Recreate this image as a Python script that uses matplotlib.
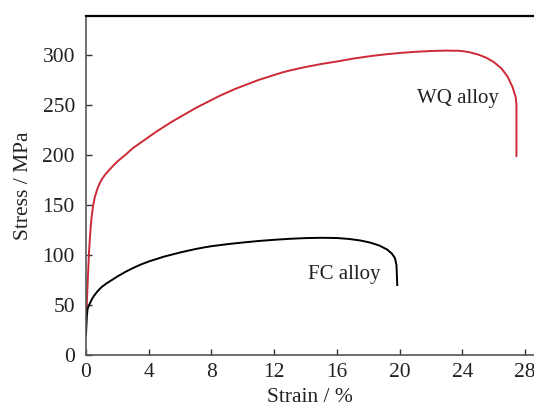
import matplotlib.pyplot as plt

# WQ alloy stress-strain curve (strain %, stress MPa)
wq_strain = [0, 0.05, 0.1, 0.15, 0.2, 0.27, 0.35, 0.45, 0.55, 0.7, 0.85, 1.0, 1.2,
             1.45, 1.75, 2.0, 2.5, 3.0, 3.5, 4.0, 4.5, 5.0, 5.5, 6.0, 6.5, 7.0,
             7.5, 8.0, 8.5, 9.0, 9.5, 10.0, 10.5, 11.0, 11.5, 12.0, 12.5, 13.0,
             13.5, 14.0, 15.0, 16.0, 17.0, 18.0, 19.0, 20.0, 21.0, 22.0, 23.0,
             23.8, 24.4, 25.0, 25.5, 26.0, 26.5, 26.9, 27.2, 27.4, 27.45, 27.45]
wq_stress = [30, 50, 70, 88, 105, 122, 137, 149, 157, 165, 171, 175.5, 180,
             184.5, 189.5, 193.5, 200, 207, 212.5, 218, 223.5, 228.5, 233.5, 238, 242.5, 247,
             251, 255, 259, 262.5, 266, 269, 272, 275, 277.5, 280, 282.5, 284.5,
             286.3, 288, 291, 293.5, 296.3, 298.6, 300.5, 302, 303.2, 304, 304.4,
             304.2, 303, 300.5, 297.5, 293, 286.5, 278, 268, 258, 250, 199]

# FC alloy stress-strain curve
fc_strain = [0, 0.05, 0.1, 0.2, 0.35, 0.5, 0.75, 1.0, 1.3, 1.6, 2.0, 2.5, 3.0,
             3.5, 4.0, 4.5, 5.0, 5.5, 6.0, 6.5, 7.0, 7.5, 8.0, 9.0, 10.0, 11.0,
             12.0, 13.0, 14.0, 15.0, 16.0, 16.8, 17.5, 18.1, 18.7, 19.2, 19.5,
             19.7, 19.8, 19.85]
fc_stress = [20, 38, 46, 50, 55, 59, 64, 68, 71.5, 74.5, 78.5, 83, 87,
             90.5, 93.5, 96, 98.5, 100.5, 102.5, 104.3, 106, 107.5, 108.8, 110.8, 112.5, 114,
             115.2, 116.2, 116.9, 117.2, 117, 116, 114.5, 112.5, 109.5, 105.5, 101.5,
             97, 90, 70]

plt.rcParams['font.family'] = ['Liberation Serif', 'DejaVu Serif']

fig = plt.figure(figsize=(5.34, 4.08), dpi=100)
ax = fig.add_axes([86 / 534, 53 / 408, 448 / 534, 339 / 408])

ax.plot(wq_strain, wq_stress, color='#cc2a36', lw=1.4)
ax.plot(fc_strain, fc_stress, color='black', lw=1.4)

ax.text(23.7, 256, 'WQ alloy', fontsize=15, ha='center', va='center', color='#222222')
ax.text(16.5, 80, 'FC alloy', fontsize=15, ha='center', va='center', color='#222222')

ax.set_xlim(0, 28.57)
ax.set_ylim(0, 339)
ax.set_xticks(range(0, 29, 4))
ax.set_yticks(range(0, 301, 50))
ax.tick_params(direction='in', length=4, width=1, labelsize=15.5, color='#333333',
               labelcolor='#222222')
ax.tick_params(axis='x', pad=6)
ax.tick_params(axis='y', pad=8)

ax.set_xlabel('Strain / %', fontsize=15.5, color='#222222', labelpad=4)
ax.set_ylabel('Stress / MPa', fontsize=15.5, color='#222222', labelpad=7)

ax.spines['right'].set_visible(False)
ax.spines['top'].set_color('black')
ax.spines['top'].set_linewidth(1.6)
for s in ['left', 'bottom']:
    ax.spines[s].set_color('#555555')
    ax.spines[s].set_linewidth(1.2)

fig.savefig('out.png', dpi=100)
